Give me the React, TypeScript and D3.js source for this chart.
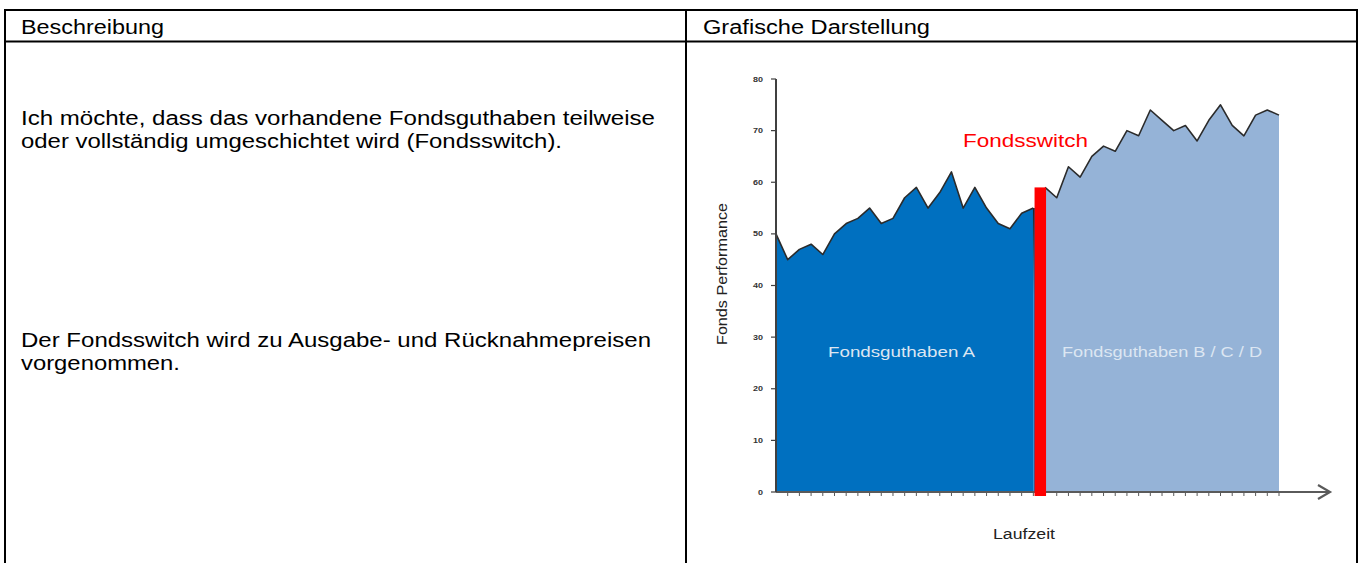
import React from "react";
import * as d3 from "d3";

// ---- data ----
const headerLabels = ["Beschreibung", "Grafische Darstellung"];
const descriptionBlock1 = [
  "Ich möchte, dass das vorhandene Fondsguthaben teilweise",
  "oder vollständig umgeschichtet wird (Fondsswitch).",
];
const descriptionBlock2 = [
  "Der Fondsswitch wird zu Ausgabe- und Rücknahmepreisen",
  "vorgenommen.",
];
const fundAValues = [50, 45, 47, 48, 46, 50, 52, 53, 55, 52, 53, 57, 59, 55, 58, 62, 55, 59, 55, 52, 51, 54, 55];
const fundBCDValues = [59, 57, 63, 61, 65, 67, 66, 70, 69, 74, 72, 70, 71, 68, 72, 75, 71, 69, 73, 74, 73];
const switchValue = 59;
const yTicks = [0, 10, 20, 30, 40, 50, 60, 70, 80];
const seriesLabels = ["Fondsguthaben A", "Fondsguthaben B / C / D"];
const switchLabel = "Fondsswitch";
const yAxisTitle = "Fonds Performance";
const xAxisTitle = "Laufzeit";

const FONT = "'Liberation Sans', Arial, Helvetica, sans-serif";

type TProps = {
  x: number;
  y: number;
  w?: number;
  size: number;
  fill?: string;
  anchor?: string;
  weight?: string | number;
  transform?: string;
  children: React.ReactNode;
};
const T = ({ x, y, w, size, fill = "#000", anchor = "start", weight = "normal", transform, children }: TProps) => (
  <text
    x={x}
    y={y}
    fontFamily={FONT}
    fontSize={size}
    fill={fill}
    textAnchor={anchor}
    fontWeight={weight}
    transform={transform}
    {...(w ? { textLength: w, lengthAdjust: "spacingAndGlyphs" } : {})}
  >
    {children}
  </text>
);

export default function App() {
  const W = 1363;
  const H = 563;

  const nA = fundAValues.length;
  const total = nA + fundBCDValues.length;
  const x = d3.scaleLinear().domain([0, total - 1]).range([776, 1279]);
  const y = d3.scaleLinear().domain([0, 80]).range([492, 79]);

  const dataA = fundAValues.map((v, i) => ({ i, v }));
  const dataB = fundBCDValues.map((v, k) => ({ i: nA + k, v }));

  const area = d3
    .area<{ i: number; v: number }>()
    .x((d) => x(d.i))
    .y0(y(0))
    .y1((d) => y(d.v));
  const line = d3
    .line<{ i: number; v: number }>()
    .x((d) => x(d.i))
    .y((d) => y(d.v));

  const step = x(1) - x(0);
  const barX0 = x(nA - 1) + 1.2;
  const barX1 = x(nA) + 1;

  const xTickIdx = d3.range(1, total);
  const TS = 20;

  return (
    <svg width={W} height={H} style={{ position: "absolute", left: 0, top: 0 }}>
      <defs>
        <linearGradient id="edgeFade" x1="0" y1="0" x2="0" y2="1">
          <stop offset="0" stopColor="#222" stopOpacity="1" />
          <stop offset="1" stopColor="#222" stopOpacity="0" />
        </linearGradient>
      </defs>
      <rect x={0} y={0} width={W} height={H} fill="#fff" />

      {/* table */}
      <g stroke="#000" strokeWidth={2} fill="none">
        <line x1={4} y1={10} x2={1358} y2={10} />
        <line x1={4} y1={41.5} x2={1358} y2={41.5} />
        <line x1={5} y1={9} x2={5} y2={H} />
        <line x1={686} y1={9} x2={686} y2={H} />
        <line x1={1357} y1={9} x2={1357} y2={H} />
      </g>
      <T x={21} y={33.5} size={TS} w={143}>{headerLabels[0]}</T>
      <T x={703} y={33.5} size={TS} w={227}>{headerLabels[1]}</T>

      <T x={21} y={124.5} size={TS} w={634}>{descriptionBlock1[0]}</T>
      <T x={21} y={147.5} size={TS} w={541}>{descriptionBlock1[1]}</T>
      <T x={21} y={346.5} size={TS} w={630}>{descriptionBlock2[0]}</T>
      <T x={21} y={369.5} size={TS} w={159}>{descriptionBlock2[1]}</T>

      {/* chart areas */}
      <path d={area(dataA) || ""} fill="#0070C0" />
      <rect x={x(nA - 1)} y={y(fundAValues[nA - 1])} width={barX0 - x(nA - 1) + 0.5} height={y(0) - y(fundAValues[nA - 1])} fill="#0070C0" />
      <path d={area(dataB) || ""} fill="#95B3D7" />
      <path d={line(dataA) || ""} fill="none" stroke="#2b2b2b" strokeWidth={1.6} strokeLinejoin="round" />
      <path d={line(dataB) || ""} fill="none" stroke="#2b2b2b" strokeWidth={1.6} strokeLinejoin="round" />
      <rect
        x={barX0 - 1.6}
        y={y(fundAValues[nA - 1])}
        width={1.6}
        height={y(38) - y(fundAValues[nA - 1])}
        fill="url(#edgeFade)"
      />

      {/* x axis */}
      <g stroke="#5a5a5a" strokeWidth={1}>
        {xTickIdx.map((i) => (
          <line key={i} x1={x(0) + i * step} x2={x(0) + i * step} y1={492} y2={496} />
        ))}
      </g>
      <line x1={776} y1={492} x2={1330} y2={492} stroke="#5a5a5a" strokeWidth={2.2} />
      <polyline points="1318,485 1330,492 1318,499" fill="none" stroke="#5a5a5a" strokeWidth={2.2} />

      {/* switch bar */}
      <rect x={barX0} y={y(switchValue)} width={barX1 - barX0} height={y(0) - y(switchValue) + 4} fill="#FF0000" />

      {/* y axis */}
      <line x1={776} y1={y(80)} x2={776} y2={y(0)} stroke="#404040" strokeWidth={2} />
      {yTicks.map((t) => (
        <g key={t}>
          <line x1={771} x2={776} y1={y(t)} y2={y(t)} stroke="#404040" strokeWidth={1.2} />
          <T x={763} y={y(t) + 2.5} size={7} weight="bold" anchor="end" fill="#333" w={t === 0 ? 5 : 10}>
            {t}
          </T>
        </g>
      ))}

      {/* labels */}
      <T x={1025.5} y={147} size={18} fill="#FF0000" anchor="middle" w={125}>{switchLabel}</T>
      <T x={901.5} y={357} size={14.5} fill="#dce6f2" anchor="middle" w={147}>{seriesLabels[0]}</T>
      <T x={1162} y={357} size={14.5} fill="#dce6f2" anchor="middle" w={200}>{seriesLabels[1]}</T>
      <T x={0} y={0} size={14} fill="#222" anchor="middle" w={142} transform="translate(727,274) rotate(-90)">
        {yAxisTitle}
      </T>
      <T x={1024} y={539} size={14} fill="#222" anchor="middle" w={62}>{xAxisTitle}</T>
    </svg>
  );
}
